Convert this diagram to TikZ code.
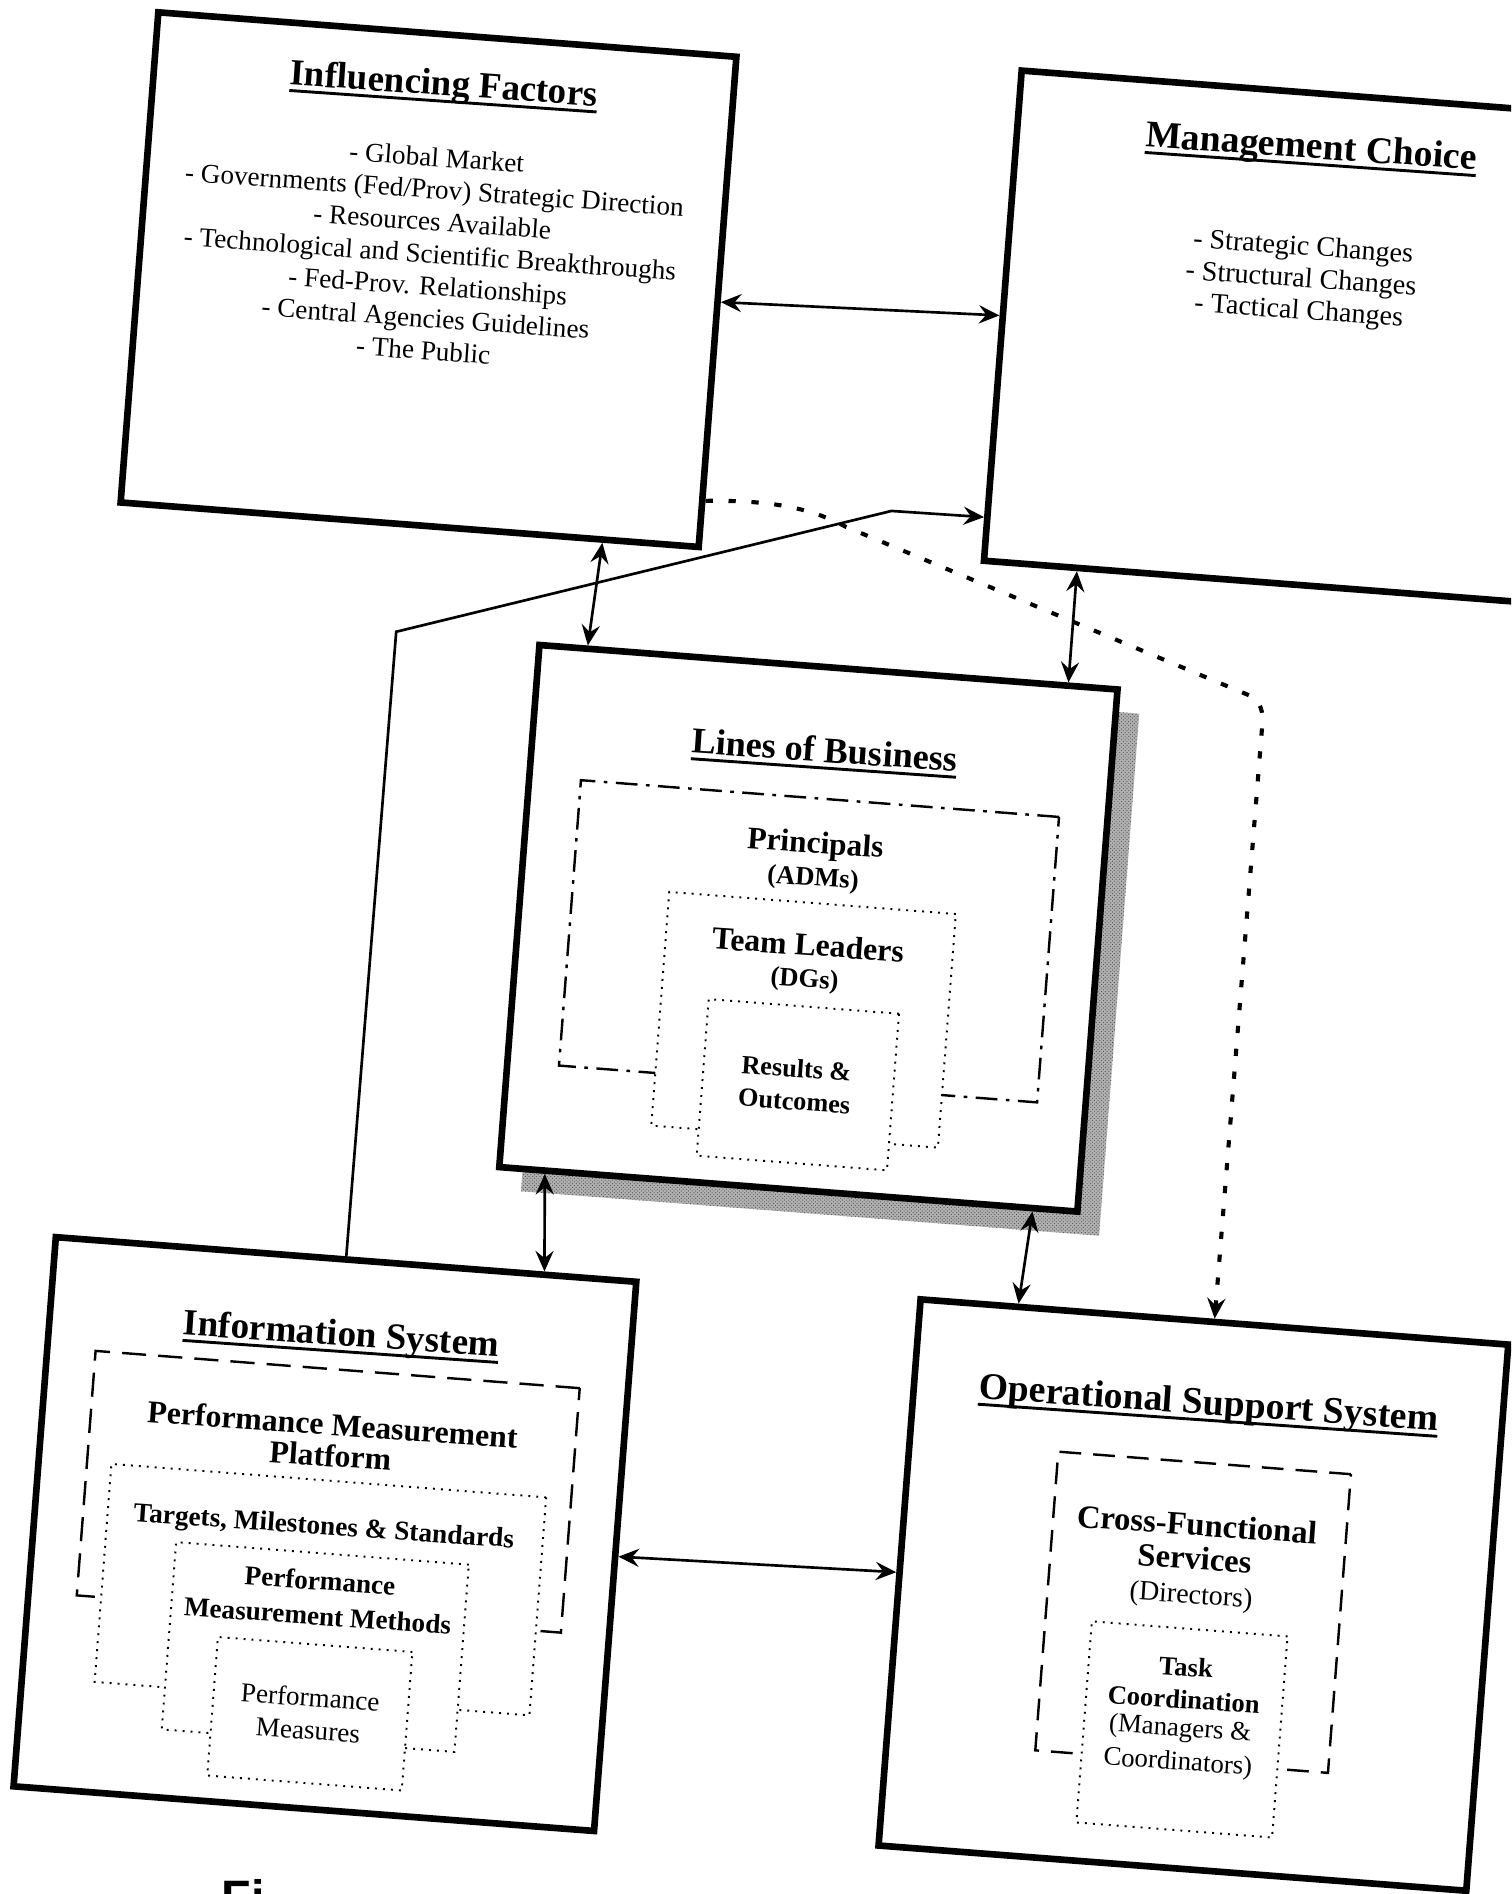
\documentclass[tikz,border=0pt]{standalone}
\usepackage{fontspec}
\setmainfont{Liberation Serif}
\newfontfamily\capsans{Liberation Sans}
\usetikzlibrary{arrows.meta,calc,patterns}
\newsavebox\ulbox
\newcommand\myul[1]{\sbox\ulbox{#1}\rlap{\rule[-6pt]{\wd\ulbox}{2.4pt}}\usebox\ulbox}
\tikzset{
  bigbox/.style={draw, line width=5.5pt, rotate=-4.4, fill=white, inner sep=0pt, line join=miter},
  shadowbox/.style={rotate=-4.4, preaction={fill=black!30}, pattern=crosshatch dots, pattern color=black!70, inner sep=0pt},
  dashdotbox/.style={draw, line width=2pt, rotate=-4.4, inner sep=0pt, dash pattern=on 18pt off 7pt on 3pt off 7pt},
  dashbox/.style={draw, line width=2pt, rotate=-4.4, inner sep=0pt, dash pattern=on 20pt off 10pt},
  dotbox/.style={draw, line width=1.6pt, rotate=-4.4, inner sep=0pt, fill=white, dash pattern=on 1.6pt off 5pt},
  txt/.style={rotate=-4, align=center, inner sep=0pt},
  title/.style={txt, anchor=base, font=\fontsize{30.5pt}{36pt}\selectfont\bfseries},
  items/.style={txt, font=\fontsize{22.5pt}{26.7pt}\selectfont},
  conn/.style={line width=2.2pt, {Stealth[length=17pt,width=15pt,inset=6pt]}-{Stealth[length=17pt,width=15pt,inset=6pt]}},
  oneway/.style={line width=2.2pt, -{Stealth[length=17pt,width=15pt,inset=6pt]}},
  dotconn/.style={line width=3.4pt, dash pattern=on 6pt off 13pt, -{Stealth[length=17pt,width=15pt,inset=6pt]}}
}
\begin{document}
\begin{tikzpicture}[x=1pt,y=-1pt]
\useasboundingbox (0,0) rectangle (1251,1568);
\clip (0,0) rectangle (1251,1568);
\fill[white] (0,0) rectangle (1251,1568);

% ---------- Influencing Factors ----------
\node[bigbox, minimum width=480pt, minimum height=407pt] (IF) at (354.75,231.5) {};
\node[title] (IFt) at (367,79) {\myul{Influencing Factors}};
\node[items] (IFi) at (356,210) {- Global Market\\- Governments (Fed/Prov) Strategic Direction\\- Resources Available\\- Technological and Scientific Breakthroughs\\- Fed-Prov. Relationships\\- Central Agencies Guidelines\\- The Public};

% ---------- Management Choice ----------
\node[bigbox, minimum width=480pt, minimum height=407pt] (MC) at (1069.5,279.75) {};
\node[title, font=\fontsize{31.2pt}{36pt}\selectfont\bfseries] (MCt) at (1085,131) {\myul{Management Choice}};
\node[txt, font=\fontsize{23.3pt}{26.5pt}\selectfont] (MCi) at (1077,232) {- Strategic Changes\\- Structural Changes\\- Tactical Changes};

% ---------- Lines of Business ----------
\node[shadowbox, minimum width=480pt, minimum height=433.5pt] (LOBs) at (687.25,788.5) {};
\node[bigbox, minimum width=480pt, minimum height=433.5pt] (LOB) at (669.25,768.5) {};
\node[title, font=\fontsize{30pt}{36pt}\selectfont\bfseries] (LOBt) at (682,631) {\myul{Lines of Business}};
\node[dashdotbox, minimum width=397pt, minimum height=237pt] (PRIN) at (669.75,779.25) {};
\node[txt, font=\fontsize{26pt}{30pt}\selectfont\bfseries] (PRINt) at (675,700) {Principals};
\node[txt, font=\fontsize{22pt}{26pt}\selectfont\bfseries] (PRINs) at (673,728) {(ADMs)};
\node[dotbox, minimum width=238pt, minimum height=194pt] (TL) at (665.25,844.25) {};
\node[txt, font=\fontsize{26.3pt}{30pt}\selectfont\bfseries] (TLt) at (669,782) {Team Leaders};
\node[txt, font=\fontsize{22pt}{26pt}\selectfont\bfseries] (TLs) at (666,812) {(DGs)};
\node[dotbox, minimum width=158pt, minimum height=130pt] (RES) at (660.5,898) {};
\node[txt, font=\fontsize{21.7pt}{27pt}\selectfont\bfseries] (RESt) at (658.5,898) {Results \&\\Outcomes};

% ---------- Information System ----------
\node[bigbox, minimum width=482pt, minimum height=456pt] (IS) at (269,1270) {};
\node[title, font=\fontsize{30.7pt}{36pt}\selectfont\bfseries] (ISt) at (282,1114) {\myul{Information System}};
\node[dashbox, minimum width=402pt, minimum height=203pt] (PMP) at (271.75,1235) {};
\node[txt, font=\fontsize{26.3pt}{26pt}\selectfont\bfseries] (PMPt) at (274.5,1192) {Performance Measurement\\Platform};
\node[dotbox, minimum width=361pt, minimum height=181pt] (TMS) at (265.25,1316) {};
\node[txt, font=\fontsize{22.6pt}{27pt}\selectfont\bfseries] (TMSt) at (268,1265) {Targets, Milestones \& Standards};
\node[dotbox, minimum width=243pt, minimum height=155.5pt] (PMM) at (261,1363.5) {};
\node[txt, font=\fontsize{22.5pt}{29pt}\selectfont\bfseries] (PMMt) at (264,1323) {Performance\\Measurement Methods};
\node[dotbox, minimum width=161.5pt, minimum height=115pt] (PM) at (256.5,1418.75) {};
\node[txt, font=\fontsize{22.5pt}{27pt}\selectfont] (PMt) at (256,1418.5) {Performance\\Measures};

% ---------- Operational Support System ----------
\node[bigbox, minimum width=488pt, minimum height=453.5pt] (OSS) at (988,1320.5) {};
\node[title, font=\fontsize{31.2pt}{36pt}\selectfont\bfseries] (OSSt) at (1000,1171) {\myul{Operational Support System}};
\node[dashbox, dash pattern=on 18pt off 10pt, minimum width=243pt, minimum height=248pt] (CFS) at (987.75,1334.75) {};
\node[txt, font=\fontsize{27pt}{28pt}\selectfont\bfseries] (CFSt) at (990,1276) {Cross-Functional\\Services};
\node[txt, font=\fontsize{23.2pt}{27pt}\selectfont] (CFSs) at (986,1322) {(Directors)};
\node[dotbox, minimum width=162.5pt, minimum height=167pt] (TASK) at (978.5,1431.75) {};
\node[txt, font=\fontsize{22pt}{27pt}\selectfont\bfseries] (TASKt) at (981,1393.5) {Task\\Coordination};
\node[txt, font=\fontsize{22.2pt}{28pt}\selectfont] (TASKs) at (976,1446) {(Managers \&\\Coordinators)};

% ---------- connectors ----------
\draw[conn] (IF.east) -- (MC.west);
\draw[conn] ($(IF.south west)!0.83!(IF.south east)$) -- ($(LOB.north west)!0.088!(LOB.north east)$);
\draw[conn] ($(MC.south west)!0.165!(MC.south east)$) -- ($(LOB.north west)!0.91!(LOB.north east)$);
\draw[conn] ($(LOB.south west)!0.084!(LOB.south east)$) -- ($(IS.north west)!0.8375!(IS.north east)$);
\draw[conn] ($(LOB.south west)!0.918!(LOB.south east)$) -- ($(OSS.north west)!0.17!(OSS.north east)$);
\draw[conn] (IS.east) -- (OSS.west);

\coordinate (kneeA) at (328,523);
\coordinate (kneeB) at (738,423);
\draw[oneway] (IS.north) -- (kneeA) -- (kneeB) -- ($(MC.north west)!0.906!(MC.south west)$);

\coordinate (dotA) at (700,436);
\coordinate (dotB) at (1035,576);
\coordinate (dotC) at (1045,600);
\draw[dotconn] ($(IF.north east)!0.9!(IF.south east)$) .. controls (640,414) and (672,421) .. (dotA) -- (dotB) .. controls (1044,581) and (1046,590) .. (dotC) -- (OSS.north);

% ---------- caption (cut off) ----------
\node[anchor=base west, font=\capsans\bfseries\fontsize{40pt}{40pt}\selectfont] (cap) at (180,1585) {Fi};
\end{tikzpicture}
\end{document}
